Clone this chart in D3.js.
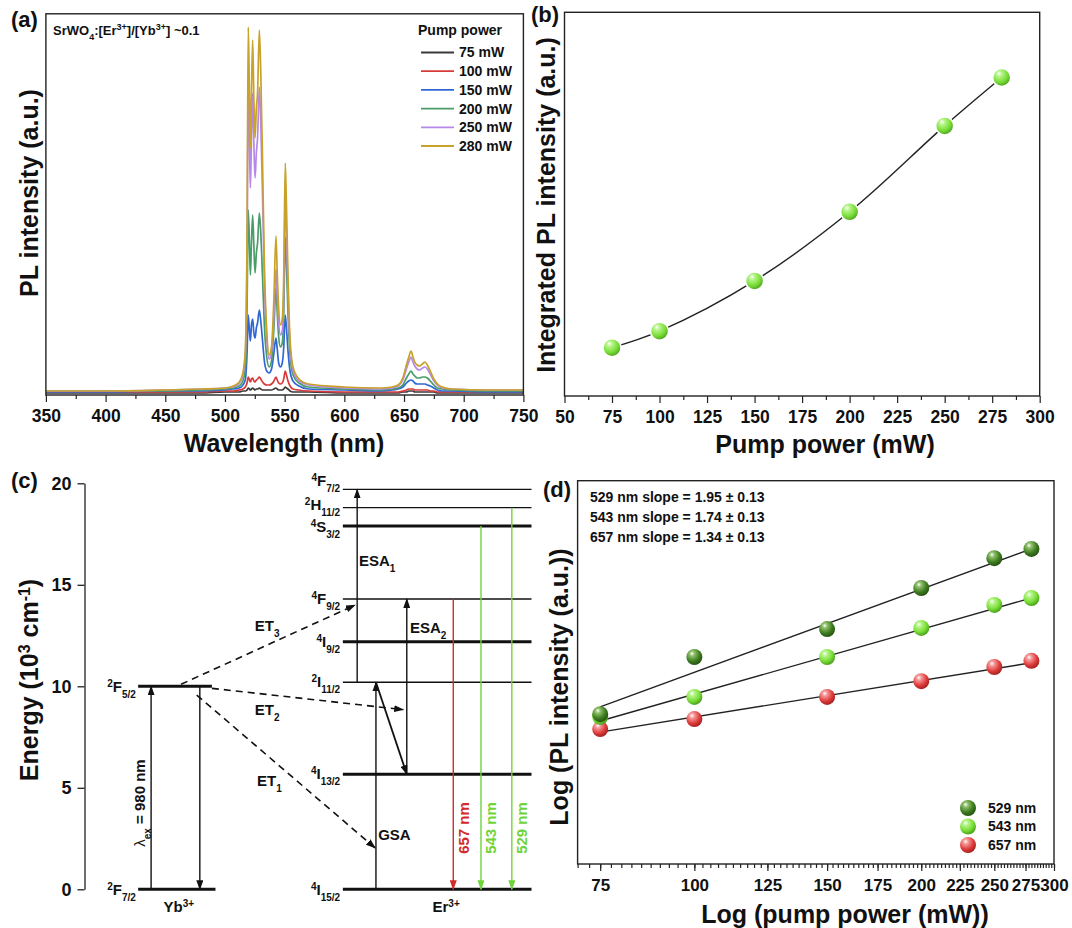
<!DOCTYPE html>
<html>
<head>
  <meta charset="utf-8">
  <title>SrWO4 Er/Yb upconversion</title>
  <script src="https://cdn.jsdelivr.net/npm/d3@7"></script>
  <style>
    body { margin: 0; background: #fff; }
    text { font-family: "Liberation Sans", Arial, sans-serif; font-weight: bold; fill: #111; }
  </style>
</head>
<body>
<script>
// ---------- data: (a) spectra ----------
var wavelength = [350,400,450,480,500,507,512,515,517,518.5, 519.5,520.5,521.3,522.2,523.2,524.2,525.2,526.3,527.3,528.8,
  530,531.5,533,535,537,539,541,542.7,543.8,545, 546.5,548,549.2,550.5,551.5,552.8,554.5,557,562,570,
  600,630,640,645,649,652,654,655.8,657.5,659, 661,663,665.5,667.5,669.5,672,675,678,682,690, 720,750];
var pl75 = [0,0,0,0,1,1,1,2,2,3, 5,4,3,4,5,4,3,4,4,5, 4,3,3,3,3,3,4,5,4,3, 3,3,4,6,5,4,2,1,1,1,
  0,0,0,0,1,1,2,2,2,1, 1,1,1,1,1,1,1,0,0,0, 0,0];
var pl100 = [1,1,1,1,2,2,3,4,6,10, 16,13,11,14,15,12,11,13,14,16, 14,11,9,8,8,9,12,16,13,10, 9,10,14,22,18,12,7,4,3,2,
  1,1,1,1,2,3,4,4,4,3, 3,3,3,3,3,2,2,1,1,1, 1,1];
var pl150 = [1,1,2,2,3,4,5,8,13,40, 78,62,52,68,74,60,55,65,70,83, 72,52,32,22,20,24,40,55,44,30, 26,30,45,78,65,42,22,12,7,4,
  3,2,3,4,6,10,12,13,12,10, 9,9,9,9,8,7,5,3,2,2, 1,1];
var pl200 = [2,2,2,3,4,5,7,12,24,85, 183,150,118,150,178,148,120,140,150,180, 160,115,68,36,26,32,65,105,80,56, 46,50,78,156,128,80,38,18,10,6,
  4,3,4,5,8,15,19,22,19,17, 15,15,16,16,15,12,8,5,4,3, 2,2];
var pl250 = [2,2,3,4,5,6,10,18,37,135, 305,250,205,255,300,250,215,240,255,306, 270,195,112,55,34,41,78,124,96,70, 58,62,97,196,160,100,47,22,12,8,
  5,4,5,7,13,24,31,36,31,27, 24,23,25,26,24,19,12,8,5,4, 3,3];
var pl280 = [2,2,3,4,5,7,11,20,42,160, 366,300,245,300,353,295,255,285,300,363, 320,230,130,62,38,46,95,157,120,84, 68,74,115,230,188,118,55,26,14,9,
  6,5,6,8,15,28,36,42,36,31, 28,27,29,31,28,22,14,9,6,4, 3,3];
var pumpLabels = ["75 mW","100 mW","150 mW","200 mW","250 mW","280 mW"];
var spectraColors = ["#3a3a3a","#d93a3a","#2f68d4","#4a9c68","#b688e8","#c9a22a"];
var wlTicks = [350,400,450,500,550,600,650,700,750];
var wlMinor = [375,425,475,525,575,625,675,725];

// ---------- data: (b) integrated intensity ----------
var pumpPower = [75,100,150,200,250,280];
var integratedPL = [0.126,0.169,0.300,0.480,0.704,0.830];
var powerTicks = [50,75,100,125,150,175,200,225,250,275,300];
var powerMinor = [62.5,87.5,112.5,137.5,162.5,187.5,212.5,237.5,262.5,287.5];

// ---------- data: (d) log-log ----------
var log529 = [3.91,5.40,6.13,7.20,7.98,8.22];
var log543 = [3.84,4.36,5.40,6.16,6.76,6.94];
var log657 = [3.52,3.78,4.36,4.77,5.14,5.30];
var fit529 = [[75,4.10],[280,8.22]];
var fit543 = [[75,3.73],[280,6.94]];
var fit657 = [[75,3.44],[280,5.25]];
var logTicks = [75,100,125,150,175,200,225,250,275,300];
var logMinor = d3.range(70, 300.1, 2.5);
var slopeTexts = ["529 nm slope = 1.95 \u00b1 0.13","543 nm slope = 1.74 \u00b1 0.13","657 nm slope = 1.34 \u00b1 0.13"];
var bandNames = ["529 nm","543 nm","657 nm"];

// ---------- data: (c) energy levels (10^3 cm^-1) ----------
var energyTicks = [0,5,10,15,20];
var ybLevels = [
  {sup:"2", term:"F", sub:"7/2", E:0,  x0:12.0, x1:29.3, thick:true},
  {sup:"2", term:"F", sub:"5/2", E:10, x0:12.0, x1:28.5, thick:true}
];
var erLevels = [
  {sup:"4", term:"I", sub:"15/2", E:0,    thick:true,  dy:0},
  {sup:"4", term:"I", sub:"13/2", E:5.67, thick:true,  dy:0},
  {sup:"2", term:"I", sub:"11/2", E:10.2, thick:false, dy:0},
  {sup:"4", term:"I", sub:"9/2",  E:12.2, thick:true,  dy:0},
  {sup:"4", term:"F", sub:"9/2",  E:14.3, thick:false, dy:0},
  {sup:"4", term:"S", sub:"3/2",  E:17.9, thick:true,  dy:1},
  {sup:"2", term:"H", sub:"11/2", E:18.8, thick:false, dy:-3},
  {sup:"4", term:"F", sub:"7/2",  E:19.7, thick:false, dy:-9}
];
// solid transitions: x in diagram units, energies from/to
var solidArrows = [
  {x0:14.9, E0:0,    x1:14.9, E1:10,   color:"#111"},
  {x0:25.8, E0:10,   x1:25.8, E1:0,    color:"#111"},
  {x0:65.2, E0:0,    x1:65.2, E1:10.2, color:"#111"},
  {x0:65.2, E0:10.2, x1:72.1, E1:5.67, color:"#111", w:1.8},
  {x0:72.1, E0:5.67, x1:72.1, E1:14.3, color:"#111"},
  {x0:61.0, E0:10.2, x1:61.0, E1:19.7, color:"#111"},
  {x0:82.5, E0:14.3, x1:82.5, E1:0,    color:"#d42a2a"},
  {x0:88.7, E0:17.9, x1:88.7, E1:0,    color:"#6fd43a"},
  {x0:95.6, E0:18.8, x1:95.6, E1:0,    color:"#6fd43a"}
];
var transfers = [
  {name:"ET", n:"3", x0:21.6, E0:10.1, x1:60.5, E1:14.0, lx:38.1, lE:13.0},
  {name:"ET", n:"2", x0:28.5, E0:9.9,  x1:71.3, E1:8.85, lx:38.1, lE:8.84},
  {name:"ET", n:"1", x0:25.1, E0:9.57, x1:65.0, E1:2.04, lx:38.6, lE:5.34}
];
var processLabels = [
  {name:"ESA", n:"1", x:61.4, E:16.2},
  {name:"ESA", n:"2", x:72.8, E:12.9},
  {name:"GSA", n:"",  x:65.7, E:2.67}
];
var emissionLabels = [
  {text:"657 nm", x:84.9, color:"#d42a2a"},
  {text:"543 nm", x:90.9, color:"#6fd43a"},
  {text:"529 nm", x:97.9, color:"#6fd43a"}
];

// ---------- svg ----------
var svg = d3.select("body").append("svg")
  .attr("width", 1072).attr("height", 928);
var defs = svg.append("defs");

function sphereGrad(id, light, base, dark) {
  var g = defs.append("radialGradient").attr("id", id)
    .attr("cx", "38%").attr("cy", "32%").attr("r", "70%").attr("fx", "35%").attr("fy", "28%");
  g.append("stop").attr("offset", "0%").attr("stop-color", "#ffffff");
  g.append("stop").attr("offset", "22%").attr("stop-color", light);
  g.append("stop").attr("offset", "65%").attr("stop-color", base);
  g.append("stop").attr("offset", "100%").attr("stop-color", dark);
}
sphereGrad("gLime", "#b6f58a", "#79dd36", "#4a9e1e");
sphereGrad("gDark", "#8fbf6a", "#3f7d20", "#24520f");
sphereGrad("gRed", "#f59a9a", "#e03c3c", "#a31f1f");

function arrowMarker(id, color) {
  defs.append("marker").attr("id", id)
    .attr("viewBox", "0 0 10 10").attr("refX", 9).attr("refY", 5)
    .attr("markerWidth", 10).attr("markerHeight", 7)
    .attr("markerUnits", "userSpaceOnUse")
    .attr("preserveAspectRatio", "none")
    .attr("orient", "auto")
    .append("path").attr("d", "M0,0 L10,5 L0,10 z").attr("fill", color);
}
arrowMarker("mBlack", "#111");
arrowMarker("mRed", "#d42a2a");
arrowMarker("mGreen", "#6fd43a");

function frame(x0, y0, x1, y1) {
  svg.append("rect").attr("x", x0).attr("y", y0)
    .attr("width", x1 - x0).attr("height", y1 - y0)
    .attr("fill", "none").attr("stroke", "#222").attr("stroke-width", 1.4);
}
function styleAxis(g, size) {
  g.select(".domain").remove();
  g.selectAll("line").attr("stroke", "#222").attr("stroke-width", 1.2);
  g.selectAll("text").style("font-size", size + "px").style("font-family", "'Liberation Sans', Arial, sans-serif")
    .style("font-weight", "bold").attr("fill", "#111");
}
function panelTag(x, y, t) {
  svg.append("text").attr("x", x).attr("y", y).style("font-size", "22px").text(t);
}
function rotLabel(x, y, t, size) {
  return svg.append("text").attr("transform", "translate(" + x + "," + y + ") rotate(-90)")
    .attr("text-anchor", "middle").attr("dy", "0.35em").style("font-size", (size || 25) + "px").text(t);
}

// ================= (a) =================
var xA = d3.scaleLinear().domain([350, 750]).range([45.9, 523.4]);
var yA = d3.scaleLinear().domain([-2, 379.2]).range([395, 13.8]);
var spectra = [pl75, pl100, pl150, pl200, pl250, pl280];
var lineA = d3.line().curve(d3.curveMonotoneX)
  .x(function(d, i) { return xA(wavelength[i]); })
  .y(function(d) { return yA(d); });
svg.append("g").selectAll("path").data(spectra).enter().append("path")
  .attr("d", lineA).attr("fill", "none")
  .attr("stroke", function(d, i) { return spectraColors[i]; })
  .attr("stroke-width", 1.7).attr("stroke-linejoin", "round");
frame(45.9, 13.8, 523.4, 395);
svg.append("g").attr("transform", "translate(0,395)")
  .call(d3.axisBottom(xA).tickValues(wlMinor).tickSize(4).tickFormat(""))
  .call(function(g) { styleAxis(g, 17); });
svg.append("g").attr("transform", "translate(0,395)")
  .call(d3.axisBottom(xA).tickValues(wlTicks).tickSize(7).tickPadding(8).tickSizeOuter(0))
  .call(function(g) { styleAxis(g, 17.5); });
svg.append("text").attr("x", 284).attr("y", 452).attr("text-anchor", "middle")
  .style("font-size", "25px").text("Wavelength (nm)");
rotLabel(29, 193, "PL intensity (a.u.)");
panelTag(11, 27, "(a)");
var sr = svg.append("text").attr("x", 53).attr("y", 35).style("font-size", "13px");
sr.append("tspan").text("SrWO");
sr.append("tspan").attr("baseline-shift", "sub").style("font-size", "9px").text("4");
sr.append("tspan").text(":[Er");
sr.append("tspan").attr("baseline-shift", "super").style("font-size", "9px").text("3+");
sr.append("tspan").text("]/[Yb");
sr.append("tspan").attr("baseline-shift", "super").style("font-size", "9px").text("3+");
sr.append("tspan").text("] ~0.1");
svg.append("text").attr("x", 418).attr("y", 35).style("font-size", "14px").text("Pump power");
var legA = svg.append("g").selectAll("g").data(pumpLabels).enter().append("g")
  .attr("transform", function(d, i) { return "translate(421," + (52.5 + i * 18.7) + ")"; });
legA.append("line").attr("x1", 0).attr("x2", 33).attr("y1", 0).attr("y2", 0)
  .attr("stroke", function(d, i) { return spectraColors[i]; }).attr("stroke-width", 1.8);
legA.append("text").attr("x", 38).attr("dy", "0.35em").style("font-size", "14px")
  .text(function(d) { return d; });

// ================= (b) =================
var xB = d3.scaleLinear().domain([50, 300]).range([564.5, 1039.7]);
var yB = d3.scaleLinear().domain([0, 1]).range([396, 12.3]);
svg.append("path").datum(pumpPower)
  .attr("d", d3.line().curve(d3.curveCatmullRom)
    .x(function(d) { return xB(d); })
    .y(function(d, i) { return yB(integratedPL[i]); }))
  .attr("fill", "none").attr("stroke", "#222").attr("stroke-width", 1.4);
svg.append("g").selectAll("circle").data(pumpPower).enter().append("circle")
  .attr("cx", function(d) { return xB(d); })
  .attr("cy", function(d, i) { return yB(integratedPL[i]); })
  .attr("r", 9).attr("fill", "url(#gLime)").attr("stroke", "#fff").attr("stroke-width", 1.5);
frame(564.5, 12.3, 1039.7, 396);
svg.append("g").attr("transform", "translate(0,396)")
  .call(d3.axisBottom(xB).tickValues(powerMinor).tickSize(4).tickFormat(""))
  .call(function(g) { styleAxis(g, 17); });
svg.append("g").attr("transform", "translate(0,396)")
  .call(d3.axisBottom(xB).tickValues(powerTicks).tickSize(7).tickPadding(8).tickSizeOuter(0))
  .call(function(g) { styleAxis(g, 17.5); });
svg.append("text").attr("x", 825).attr("y", 453).attr("text-anchor", "middle")
  .style("font-size", "25px").text("Pump power (mW)");
rotLabel(546, 205, "Integrated PL intensity (a.u.)");
panelTag(531, 22, "(b)");

// ================= (c) =================
var yC = d3.scaleLinear().domain([0, 20]).range([889.3, 483.3]);
var xC = d3.scaleLinear().domain([0, 100]).range([84.5, 531.5]);
var axC = svg.append("g").attr("transform", "translate(84.5,0)")
  .call(d3.axisLeft(yC).tickValues(energyTicks).tickSize(7).tickPadding(6).tickSizeOuter(0));
axC.selectAll("line").attr("stroke", "#222").attr("stroke-width", 1.3);
axC.select(".domain").attr("stroke", "#222").attr("stroke-width", 1.3);
axC.selectAll("text").style("font-size", "18px").style("font-family", "'Liberation Sans', Arial, sans-serif")
  .style("font-weight", "bold").attr("fill", "#111");
var eLab = svg.append("text").attr("transform", "translate(29,680) rotate(-90)")
  .attr("text-anchor", "middle").attr("dy", "0.35em").style("font-size", "25px");
eLab.append("tspan").text("Energy (10");
eLab.append("tspan").attr("baseline-shift", "super").style("font-size", "16px").text("3");
eLab.append("tspan").text(" cm");
eLab.append("tspan").attr("baseline-shift", "super").style("font-size", "16px").text("-1");
eLab.append("tspan").text(")");
panelTag(11, 488, "(c)");

function termLabel(x, y, lv) {
  var t = svg.append("text").attr("x", x).attr("y", y).attr("text-anchor", "end")
    .attr("dy", "0.35em").style("font-size", "15px");
  t.append("tspan").attr("baseline-shift", "super").style("font-size", "10px").text(lv.sup);
  t.append("tspan").text(lv.term);
  t.append("tspan").attr("baseline-shift", "sub").style("font-size", "10px").text(lv.sub);
}
var gLev = svg.append("g");
gLev.selectAll("line.yb").data(ybLevels).enter().append("line")
  .attr("x1", function(d) { return xC(d.x0); }).attr("x2", function(d) { return xC(d.x1); })
  .attr("y1", function(d) { return yC(d.E); }).attr("y2", function(d) { return yC(d.E); })
  .attr("stroke", "#111").attr("stroke-width", 3);
ybLevels.forEach(function(lv) { termLabel(xC(11.5), yC(lv.E), lv); });
gLev.selectAll("line.er").data(erLevels).enter().append("line")
  .attr("x1", xC(57.8)).attr("x2", xC(100))
  .attr("y1", function(d) { return yC(d.E); }).attr("y2", function(d) { return yC(d.E); })
  .attr("stroke", "#111").attr("stroke-width", function(d) { return d.thick ? 3 : 1.3; });
erLevels.forEach(function(lv) { termLabel(xC(57.2), yC(lv.E) + lv.dy, lv); });

svg.append("g").selectAll("line").data(solidArrows).enter().append("line")
  .attr("x1", function(d) { return xC(d.x0); }).attr("x2", function(d) { return xC(d.x1); })
  .attr("y1", function(d) { return yC(d.E0); }).attr("y2", function(d) { return yC(d.E1); })
  .attr("stroke", function(d) { return d.color; })
  .attr("stroke-width", function(d) { return d.w || 1.4; })
  .attr("marker-end", function(d) {
    return d.color === "#111" ? "url(#mBlack)" : (d.color === "#d42a2a" ? "url(#mRed)" : "url(#mGreen)");
  });
svg.append("g").selectAll("line").data(transfers).enter().append("line")
  .attr("x1", function(d) { return xC(d.x0); }).attr("x2", function(d) { return xC(d.x1); })
  .attr("y1", function(d) { return yC(d.E0); }).attr("y2", function(d) { return yC(d.E1); })
  .attr("stroke", "#111").attr("stroke-width", 1.6).attr("stroke-dasharray", "7,5")
  .attr("marker-end", "url(#mBlack)");

function subLabel(x, y, name, n) {
  var t = svg.append("text").attr("x", x).attr("y", y).attr("dy", "0.35em").style("font-size", "15px");
  t.append("tspan").text(name);
  if (n) t.append("tspan").attr("baseline-shift", "sub").style("font-size", "10px").text(n);
}
transfers.forEach(function(d) { subLabel(xC(d.lx), yC(d.lE), d.name, d.n); });
processLabels.forEach(function(d) { subLabel(xC(d.x), yC(d.E), d.name, d.n); });
emissionLabels.forEach(function(d) {
  svg.append("text").attr("transform", "translate(" + xC(d.x) + "," + yC(3.02) + ") rotate(-90)")
    .attr("text-anchor", "middle").attr("dy", "0.35em").style("font-size", "15px")
    .style("fill", d.color).text(d.text);
});
var lam = svg.append("text").attr("transform", "translate(" + xC(12.4) + "," + yC(4.25) + ") rotate(-90)")
  .attr("text-anchor", "middle").attr("dy", "0.35em").style("font-size", "15px");
lam.append("tspan").style("font-weight", "normal").text("\u03bb");
lam.append("tspan").attr("baseline-shift", "sub").style("font-size", "10px").text("ex");
lam.append("tspan").text(" = 980 nm");
function ionLabel(x, ion) {
  var t = svg.append("text").attr("x", x).attr("y", 907).attr("text-anchor", "middle")
    .attr("dy", "0.35em").style("font-size", "15px");
  t.append("tspan").text(ion);
  t.append("tspan").attr("baseline-shift", "super").style("font-size", "10px").text("3+");
}
ionLabel(xC(21.1), "Yb");
ionLabel(xC(80.9), "Er");

// ================= (d) =================
var xD = d3.scaleLog().domain([70, 300]).range([577.6, 1054]);
var yD = d3.scaleLinear().domain([0, 10]).range([864, 480.7]);
var series = [
  {vals: log529, fit: fit529, grad: "url(#gDark)"},
  {vals: log543, fit: fit543, grad: "url(#gLime)"},
  {vals: log657, fit: fit657, grad: "url(#gRed)"}
];
series.forEach(function(s) {
  svg.append("path").datum(s.fit)
    .attr("d", d3.line().x(function(d) { return xD(d[0]); }).y(function(d) { return yD(d[1]); }))
    .attr("stroke", "#222").attr("stroke-width", 1.4).attr("fill", "none");
});
series.slice().reverse().forEach(function(s) {
  svg.append("g").selectAll("circle").data(s.vals).enter().append("circle")
    .attr("cx", function(d, i) { return xD(pumpPower[i]); })
    .attr("cy", function(d) { return yD(d); })
    .attr("r", 8).attr("fill", s.grad);
});
frame(577.6, 480.7, 1054, 864);
svg.append("g").attr("transform", "translate(0,864)")
  .call(d3.axisBottom(xD).tickValues(logMinor).tickSize(4).tickFormat(""))
  .call(function(g) { styleAxis(g, 17); });
svg.append("g").attr("transform", "translate(0,864)")
  .call(d3.axisBottom(xD).tickValues(logTicks).tickSize(7).tickPadding(8).tickSizeOuter(0).tickFormat(d3.format("d")))
  .call(function(g) { styleAxis(g, 17); });
svg.append("text").attr("x", 845).attr("y", 923).attr("text-anchor", "middle")
  .style("font-size", "25px").text("Log (pump power (mW))");
rotLabel(559, 687, "Log (PL intensity (a.u.))");
panelTag(543, 497, "(d)");
svg.append("g").selectAll("text").data(slopeTexts).enter().append("text")
  .attr("x", 590).attr("y", function(d, i) { return 497 + i * 20; })
  .attr("dy", "0.35em").style("font-size", "14px").text(function(d) { return d; });
var legD = svg.append("g").selectAll("g").data(bandNames).enter().append("g")
  .attr("transform", function(d, i) { return "translate(968," + (808 + i * 18.5) + ")"; });
legD.append("circle").attr("r", 8).attr("fill", function(d, i) { return series[i].grad; });
legD.append("text").attr("x", 20).attr("dy", "0.35em").style("font-size", "14px")
  .text(function(d) { return d; });
</script>
</body>
</html>
